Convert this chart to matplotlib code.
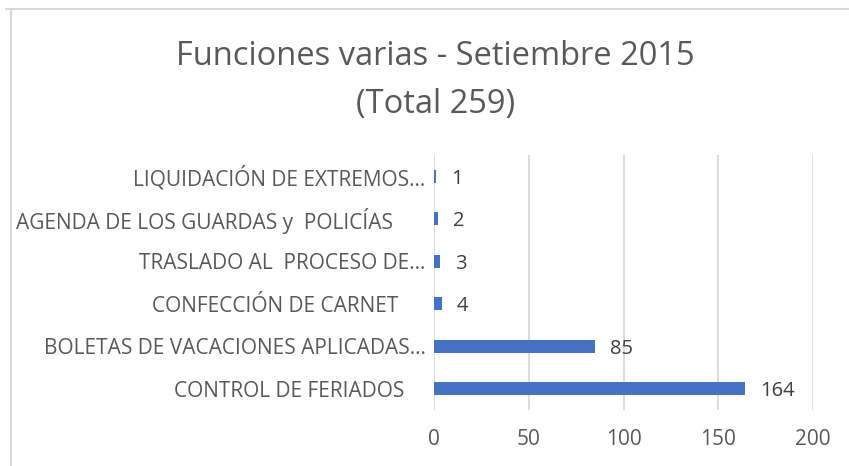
import matplotlib.pyplot as plt
from matplotlib.lines import Line2D

# data (bottom to top)
categories = [
    'CONTROL DE FERIADOS    ',
    'BOLETAS DE VACACIONES APLICADAS…',
    'CONFECCIÓN DE CARNET     ',
    'TRASLADO AL  PROCESO DE…',
    'AGENDA DE LOS GUARDAS y  POLICÍAS      ',
    'LIQUIDACIÓN DE EXTREMOS…',
]
values = [164, 85, 4, 3, 2, 1]
x_ticks = [0, 50, 100, 150, 200]

text_color = '#595959'
plt.rcParams['font.family'] = ['Open Sans', 'DejaVu Sans']

fig = plt.figure(figsize=(8.49, 4.66), dpi=100)
ax = fig.add_axes([0.5112, 0.1202, 0.4464, 0.5472])

ypos = range(len(categories))
ax.barh(ypos, values, height=0.3, color='#4472C4', zorder=3)
for y, v in zip(ypos, values):
    ax.text(v + 8, y - 0.06, str(v), va='center', ha='left', fontsize=14.5,
            color='#404040')

ax.set_xlim(0, 200)
ax.set_ylim(-0.5, len(categories) - 0.5)
ax.set_xticks(x_ticks)
ax.set_yticks(list(ypos))
ax.set_yticklabels(categories)
ax.tick_params(axis='both', length=0, labelsize=15, colors=text_color)
ax.tick_params(axis='x', pad=14)
ax.tick_params(axis='y', pad=6)
ax.grid(axis='x', color='#D9D9D9', linewidth=1.3, zorder=0)
for s in ax.spines.values():
    s.set_visible(False)

fig.text(0.513, 0.878, 'Funciones varias - Setiembre 2015', ha='center',
         va='center', fontsize=23.5, color=text_color)
fig.text(0.513, 0.775, '(Total 259)', ha='center', va='center',
         fontsize=23.5, color=text_color)

# chart frame (top and left edges visible)
fig.add_artist(Line2D([0.007, 1.0], [0.981, 0.981], transform=fig.transFigure,
                      color='#D9D9D9', linewidth=1.5))
fig.add_artist(Line2D([0.013, 0.013], [0.0, 0.981], transform=fig.transFigure,
                      color='#D9D9D9', linewidth=1.5))

fig.savefig('out.png', dpi=100)
